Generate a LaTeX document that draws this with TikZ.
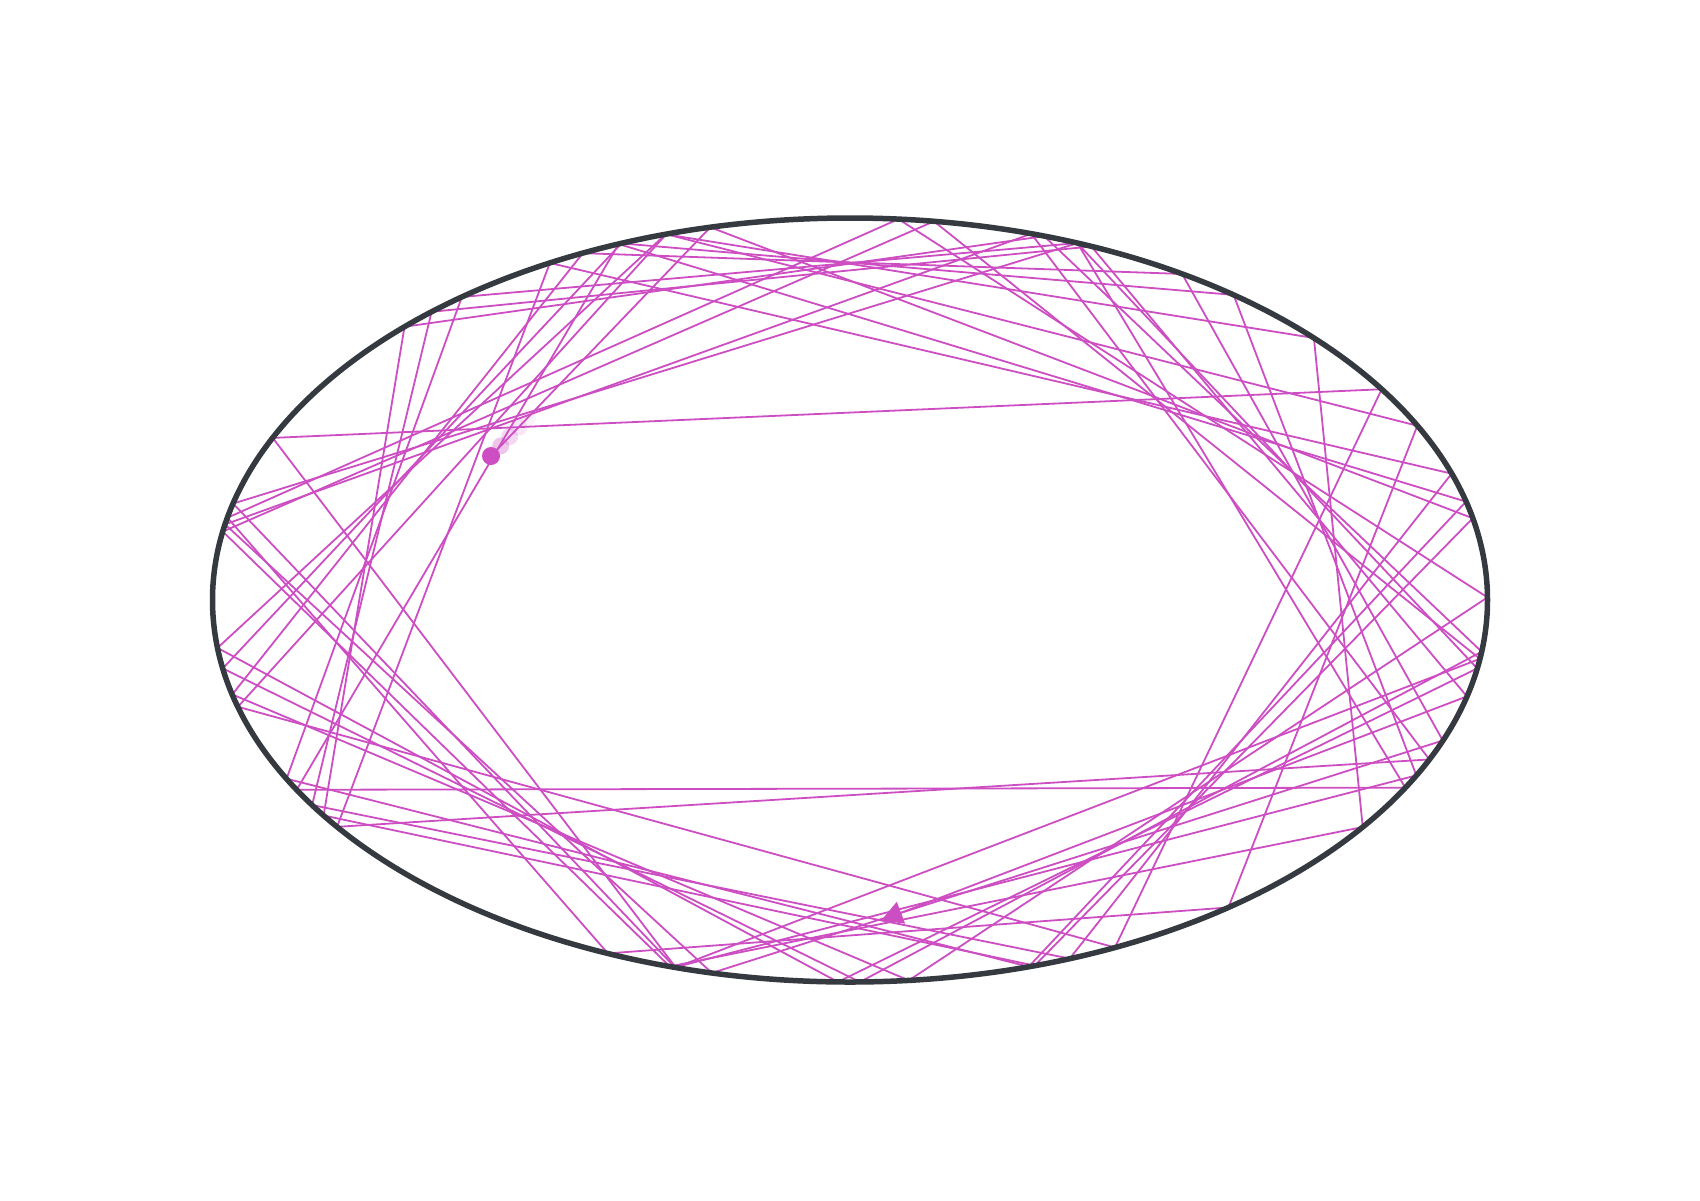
\documentclass[tikz,border=0pt]{standalone}
\usepackage{xfp}
\usetikzlibrary{arrows.meta}
\definecolor{traj}{RGB}{204,78,194}
\definecolor{rim}{RGB}{52,58,64}
\def\blA{637.5}\def\blB{382}
\def\blCX{850}\def\blCY{600}
\def\blTx{882}\def\blTy{922}
\newcommand\blInit[4]{%
  \xdef\blPx{\fpeval{#1-\blCX}}\xdef\blPy{\fpeval{#2-\blCY}}%
  \xdef\blNn{\fpeval{sqrt((#3)^2+(#4)^2)}}%
  \xdef\blDx{\fpeval{(#3)/\blNn}}\xdef\blDy{\fpeval{(#4)/\blNn}}}
\newcommand\blNext{%
 \xdef\blQa{\fpeval{(\blDx)^2/\blA^2+(\blDy)^2/\blB^2}}%
 \xdef\blQb{\fpeval{2*((\blPx)*(\blDx)/\blA^2+(\blPy)*(\blDy)/\blB^2)}}%
 \xdef\blQc{\fpeval{(\blPx)^2/\blA^2+(\blPy)^2/\blB^2-1}}%
 \xdef\blT{\fpeval{(-(\blQb)+sqrt((\blQb)^2-4*(\blQa)*(\blQc)))/(2*(\blQa))}}%
 \xdef\blQx{\fpeval{\blPx+(\blT)*(\blDx)}}%
 \xdef\blQy{\fpeval{\blPy+(\blT)*(\blDy)}}%
 \xdef\blSx{\fpeval{round(\blPx+\blCX,2)}}\xdef\blSy{\fpeval{round(\blPy+\blCY,2)}}%
 \xdef\blEx{\fpeval{round(\blQx+\blCX,2)}}\xdef\blEy{\fpeval{round(\blQy+\blCY,2)}}%
 \xdef\blNx{\fpeval{(\blQx)/\blA}}%
 \xdef\blNy{\fpeval{(\blQy)/\blB}}%
 \xdef\blK{\fpeval{2*((\blDx)*(\blNx)+(\blDy)*(\blNy))/((\blNx)^2+(\blNy)^2)}}%
 \xdef\blDx{\fpeval{\blDx-(\blK)*(\blNx)}}%
 \xdef\blDy{\fpeval{\blDy-(\blK)*(\blNy)}}%
 \xdef\blPx{\blQx}\xdef\blPy{\blQy}}
\newcommand\blLast{%
 \xdef\blS{\fpeval{(\blTx-\blCX-(\blPx))*(\blDx)+(\blTy-\blCY-(\blPy))*(\blDy)}}%
 \xdef\blSx{\fpeval{round(\blPx+\blCX,2)}}\xdef\blSy{\fpeval{round(\blPy+\blCY,2)}}%
 \xdef\blEx{\fpeval{round(\blPx+\blCX+(\blS)*(\blDx),2)}}%
 \xdef\blEy{\fpeval{round(\blPy+\blCY+(\blS)*(\blDy),2)}}}
\begin{document}
\begin{tikzpicture}[x=1pt,y=-1pt,
  seg/.style={draw=traj,line width=1.8pt},
  ghost/.style={fill=traj,draw=none}]
\useasboundingbox (0,0) rectangle (1700,1200);
\def\blAng{46.2}
\blInit{491}{456}{cos(\blAng*pi/180)}{-sin(\blAng*pi/180)}
\foreach \i in {1,...,62}{%
  \blNext
  \draw[seg] (\blSx,\blSy) -- (\blEx,\blEy);
}
\blLast
\draw[seg,-{Triangle[length=21pt,width=23pt]}] (\blSx,\blSy) -- (\blEx,\blEy);
\draw[rim,line width=5.5pt] (850,600) ellipse [x radius=637.5pt, y radius=382pt];
\foreach \d/\o in {53/0.08,40/0.14,27/0.22,14/0.32}{%
  \fill[ghost,opacity=\o] ({491+\d*cos(\blAng)},{456-\d*sin(\blAng)}) circle (8.5pt);}
\fill[traj] (491,456) circle (9pt);
\end{tikzpicture}
\end{document}
